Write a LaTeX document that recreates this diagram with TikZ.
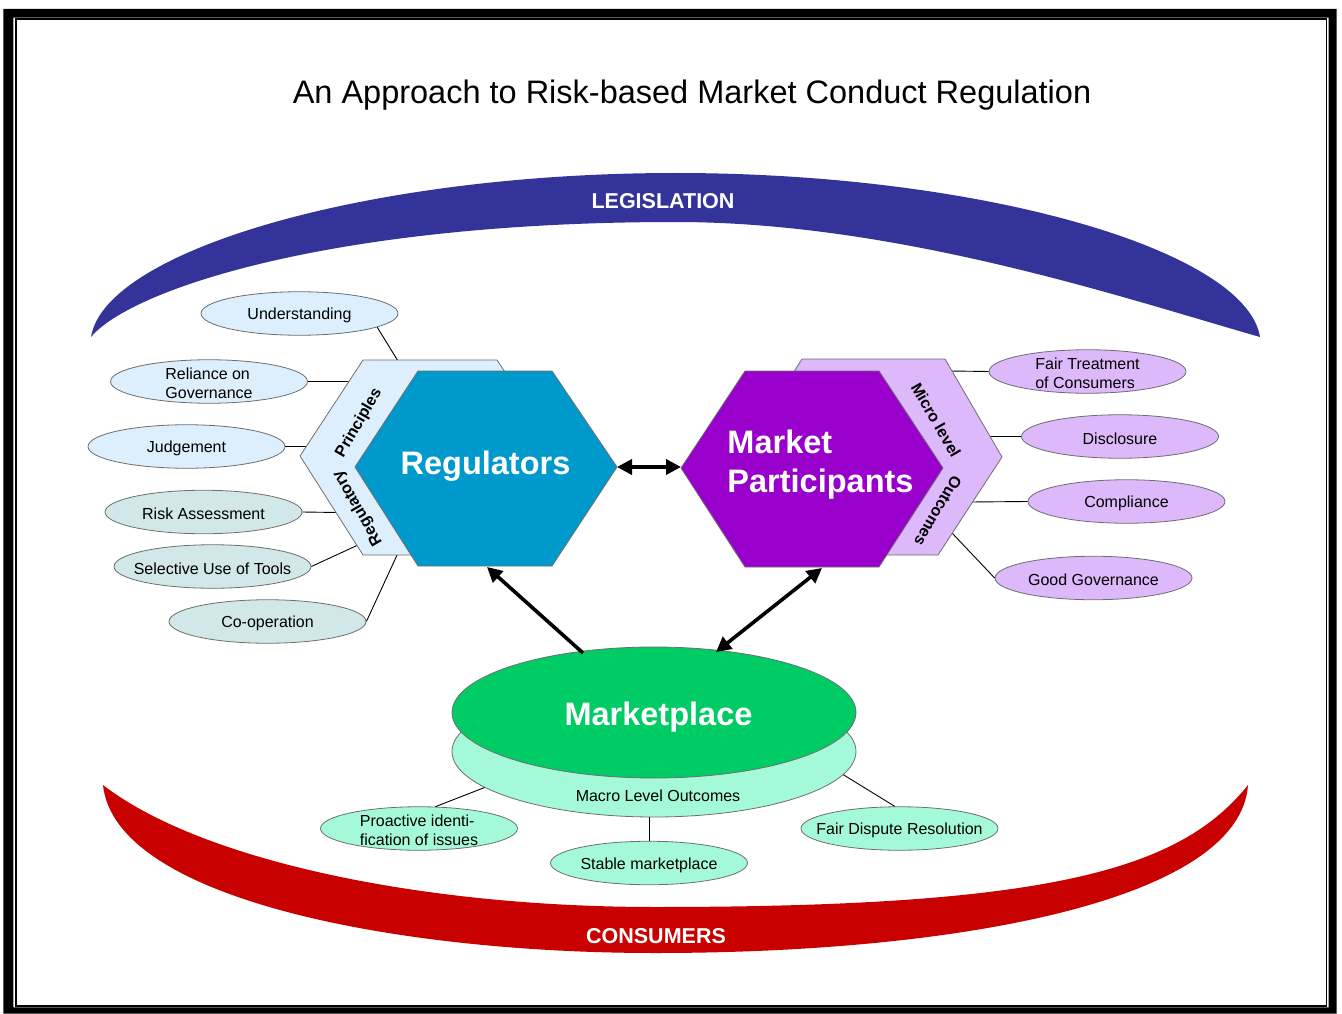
\documentclass[tikz,border=0pt]{standalone}
\usepackage{fontspec}
\setmainfont{Liberation Sans}
\usetikzlibrary{shapes.geometric,arrows.meta}

\definecolor{legblue}{HTML}{333399}
\definecolor{conred}{HTML}{C80000}
\definecolor{regblue}{HTML}{0099CC}
\definecolor{mppurple}{HTML}{9900CC}
\definecolor{mktgreen}{HTML}{00CC66}
\definecolor{skyfill}{HTML}{DDEEFC}
\definecolor{tealfill}{HTML}{D2E7E8}
\definecolor{lavfill}{HTML}{DDB8FA}
\definecolor{aquafill}{HTML}{A4FAD8}
\definecolor{edgegray}{HTML}{6E6E6E}

\begin{document}
\begin{tikzpicture}[x=1pt,y=-1pt,
  every node/.style={inner sep=0pt},
  oval/.style={ellipse, draw=edgegray, line width=0.8pt, minimum width=197pt, minimum height=43.5pt, inner sep=0pt},
  ovaltext/.style={font=\fontsize{16}{19.5}\selectfont, align=left, inner sep=0pt, yshift=-2pt},
  stub/.style={line width=0.9pt, draw=black},
  hexedge/.style={draw=edgegray, line width=0.8pt},
  hexlabel/.style={font=\bfseries\fontsize{16}{19}\selectfont},
  bigtext/.style={font=\bfseries\fontsize{32.5}{39}\selectfont, text=white, align=left},
  bandtext/.style={font=\bfseries\fontsize{21.5}{26}\selectfont, text=white},
  thickarrow/.style={line width=3.6pt, -{Triangle[length=15pt,width=15pt]}},
  thickboth/.style={line width=3.6pt, {Triangle[length=15pt,width=15pt]}-{Triangle[length=15pt,width=15pt]}}
]
\useasboundingbox (0,0) rectangle (1342,1014);

% page frame: heavy outer border and thin inner rule
\fill[black, even odd rule] (3.3,9) rectangle (1336.7,1013.5) (13.3,17.7) rectangle (1328.7,1007.3);
\draw[line width=1.6pt] (15.8,19.3) rectangle (1326.3,1005.9);

% title
\node[font=\fontsize{32.5}{39}\selectfont] (title) at (692,95) {An Approach to Risk-based Market Conduct Regulation};

% legislation band
\fill[legblue] (91,337) .. controls (105,250) and (370,173) .. (675.5,173)
  .. controls (981,173) and (1246,250) .. (1260,337)
  .. controls (1130,300) and (900,222) .. (675.5,222)
  .. controls (330,222) and (130,290) .. (91,337) -- cycle;
\node[bandtext] (leg) at (663,201) {LEGISLATION};

% consumers band
\fill[conred] (103,785) .. controls (115,900) and (400,953) .. (655,953)
  .. controls (960,953) and (1240,900) .. (1248,785)
  .. controls (1180,870) and (1050,907) .. (655,907)
  .. controls (420,907) and (200,860) .. (103,785) -- cycle;
\node[bandtext] (con) at (656,936) {CONSUMERS};

% attachment points on the hexagons
\coordinate (aUnd) at (398,361);
\coordinate (aRel) at (352,381.5);
\coordinate (aJud) at (308,446.5);
\coordinate (aRisk) at (338,512.5);
\coordinate (aSel) at (358,545);
\coordinate (aCoop) at (398,553);
\coordinate (aFtc) at (950,371);
\coordinate (aDis) at (986,436.5);
\coordinate (aComp) at (970,502);
\coordinate (aGg) at (952,533);

\coordinate (regR) at (617,467);
\coordinate (mpL) at (681,467);
\coordinate (regB) at (487,567);
\coordinate (mpB) at (822,568);
\coordinate (mktL) at (583,653);
\coordinate (mktR) at (716,652);

% satellite ovals
\node[oval, fill=skyfill, label={[ovaltext]center:Understanding}] (und) at (299.5,313.5) {};
\node[oval, fill=skyfill, label={[ovaltext]center:{Reliance on\\Governance}}] (rel) at (209,381.5) {};
\node[oval, fill=skyfill, label={[ovaltext]center:Judgement}] (jud) at (186.5,446.5) {};
\node[oval, fill=tealfill, label={[ovaltext]center:Risk Assessment}] (risk) at (203.5,512) {};
\node[oval, fill=tealfill, label={[ovaltext]center:Selective Use of Tools}] (sel) at (212.5,566.5) {};
\node[oval, fill=tealfill, label={[ovaltext]center:Co-operation}] (coop) at (267.5,621.5) {};

\node[oval, fill=lavfill, label={[ovaltext]center:{Fair Treatment\\of Consumers}}] (ftc) at (1087.5,371.5) {};
\node[oval, fill=lavfill, label={[ovaltext]center:Disclosure}] (dis) at (1120,436.5) {};
\node[oval, fill=lavfill, label={[ovaltext]center:Compliance}] (comp) at (1126.5,501.5) {};
\node[oval, fill=lavfill, label={[ovaltext]center:Good Governance}] (gg) at (1093.5,578) {};

% connectors from ovals to hexagons
\draw[stub] (und.-10) -- (aUnd);
\draw[stub] (rel.east) -- (aRel);
\draw[stub] (jud.east) -- (aJud);
\draw[stub] (risk.east) -- (aRisk);
\draw[stub] (sel.east) -- (aSel);
\draw[stub] (coop.east) -- (aCoop);
\draw[stub] (ftc.west) -- (aFtc);
\draw[stub] (dis.west) -- (aDis);
\draw[stub] (comp.west) -- (aComp);
\draw[stub] (gg.west) -- (aGg);

% regulators hexagons
\filldraw[hexedge, fill=skyfill] (300,456) -- (363,360) -- (497,360) -- (561,456) -- (497,555) -- (363,555) -- cycle;
\filldraw[hexedge, fill=regblue] (355,467) -- (418,371) -- (552,371) -- (617,467) -- (552,566) -- (418,566) -- cycle;
\node[hexlabel, rotate=60] (prin) at (359,423) {Principles};
\node[hexlabel, rotate=120] (regy) at (358,508) {Regulatory};
\node[bigtext] (reg) at (485.5,466) {Regulators};

% market participants hexagons
\filldraw[hexedge, fill=lavfill] (740,457) -- (802,359) -- (945,359) -- (1002,457) -- (938,555) -- (802,555) -- cycle;
\filldraw[hexedge, fill=mppurple] (681,468) -- (745,371) -- (879,371) -- (943,468) -- (879,567) -- (745,567) -- cycle;
\node[hexlabel, rotate=-60] (micro) at (936,420) {Micro level};
\node[hexlabel, rotate=240] (outc) at (938,511) {Outcomes};
\node[bigtext] (mp) at (820.5,465) {Market\\Participants};

% marketplace and macro outcomes
\node[ellipse, draw=edgegray, line width=0.8pt, fill=aquafill, minimum width=404pt, minimum height=131pt] (macro) at (654,751.5) {};
\node[ellipse, draw=edgegray, line width=0.8pt, fill=mktgreen, minimum width=404pt, minimum height=131pt] (mkt) at (654,712.5) {};
\node[bigtext] (mkttxt) at (658.5,717) {Marketplace};
\node[ovaltext] (macrotxt) at (658,794) {Macro Level Outcomes};

\node[oval, fill=aquafill, label={[ovaltext]center:{Proactive identi-\\fication of issues}}] (pro) at (419,828.5) {};
\node[oval, fill=aquafill, label={[ovaltext]center:Stable marketplace}] (stab) at (649,863) {};
\node[oval, fill=aquafill, label={[ovaltext]center:Fair Dispute Resolution}] (fdr) at (899.5,828.5) {};

\draw[stub] (pro.53) -- (macro.192);
\draw[stub] (stab.north) -- (stab.north |- macro.south);
\draw[stub] (fdr.102) -- (macro.-7);

% interaction arrows
\draw[thickboth] (regR) -- (mpL);
\draw[thickarrow] (mktL) -- (regB);
\draw[thickboth] (mktR) -- (mpB);

\end{tikzpicture}
\end{document}
